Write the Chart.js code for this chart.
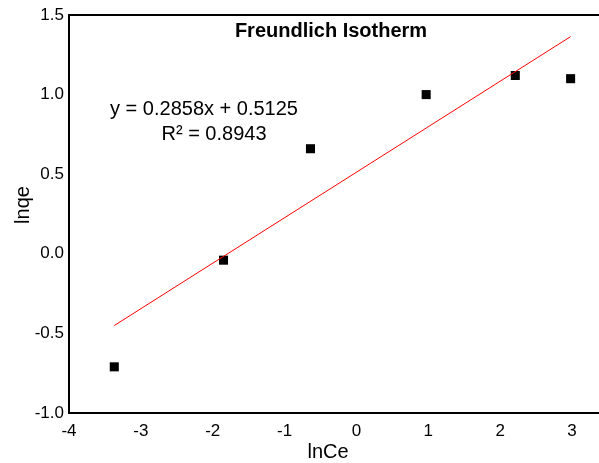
<!DOCTYPE html>
<html>
<head>
<meta charset="utf-8">
<title>Freundlich Isotherm</title>
<script src="https://cdn.jsdelivr.net/npm/chart.js@4"></script>
<style>
  html, body { margin: 0; padding: 0; background: #fff; overflow: hidden; }
</style>
</head>
<body>
<canvas id="isotherm" width="599" height="463"></canvas>
<script>
// measured points (ln Ce, ln qe)
const lnCe = [-3.37, -1.85, -0.64, 0.97, 2.21, 2.98];
const lnQe = [-0.71, -0.04, 0.66, 1.00, 1.12, 1.10];

// linear fit
const slope = 0.2858;
const intercept = 0.5125;
const rSquared = 0.8943;

const xTicks = [-4, -3, -2, -1, 0, 1, 2, 3];
const yTicks = [-1.0, -0.5, 0.0, 0.5, 1.0, 1.5];

const FONT = '"Liberation Sans", Arial, Helvetica, sans-serif';

const points = lnCe.map((x, i) => ({ x, y: lnQe[i] }));
const xLo = Math.min(...lnCe);
const xHi = Math.max(...lnCe);
const fitLine = [xLo, xHi].map(x => ({ x, y: slope * x + intercept }));

// box, title, fit equation and axis names
const decorations = {
  id: 'decorations',
  beforeDatasetsDraw(chart) {
    const { ctx, chartArea: a } = chart;
    ctx.save();
    ctx.strokeStyle = '#000';
    ctx.lineWidth = 2;
    ctx.beginPath();
    ctx.moveTo(a.right + 2, a.top);
    ctx.lineTo(a.left, a.top);
    ctx.lineTo(a.left, a.bottom);
    ctx.lineTo(a.right + 2, a.bottom);
    ctx.stroke();
    ctx.restore();
  },
  afterDraw(chart) {
    const { ctx } = chart;
    ctx.save();
    ctx.fillStyle = '#000';
    ctx.textAlign = 'center';
    ctx.textBaseline = 'middle';

    ctx.font = 'bold 20px ' + FONT;
    ctx.fillText('Freundlich Isotherm', 331, 31);

    ctx.font = '20px ' + FONT;
    const sign = intercept < 0 ? '-' : '+';
    ctx.fillText('y = ' + slope.toFixed(4) + 'x ' + sign + ' ' + Math.abs(intercept).toFixed(4), 204, 109);
    ctx.fillText('R\u00B2 = ' + rSquared.toFixed(4), 214, 134);

    ctx.fillText('lnCe', 328, 452);

    ctx.translate(23, 205);
    ctx.rotate(-Math.PI / 2);
    ctx.fillText('lnqe', 0, 0);
    ctx.restore();
  }
};

new Chart(document.getElementById('isotherm'), {
  type: 'scatter',
  data: {
    datasets: [
      {
        label: 'Linear fit',
        type: 'line',
        data: fitLine,
        borderColor: '#ff0000',
        borderWidth: 1,
        pointRadius: 0,
        fill: false,
        order: 0
      },
      {
        label: 'lnqe',
        data: points,
        pointStyle: 'rect',
        pointRadius: 6.4,
        borderWidth: 0,
        backgroundColor: '#000',
        order: 1
      }
    ]
  },
  options: {
    responsive: false,
    animation: false,
    layout: {
      autoPadding: false,
      padding: { top: 15, left: 0, right: 0, bottom: 0 }
    },
    plugins: {
      legend: { display: false },
      tooltip: { enabled: false }
    },
    scales: {
      x: {
        type: 'linear',
        min: -4,
        max: 3.375,
        grid: { display: false, drawTicks: false },
        border: { display: false },
        afterBuildTicks: s => { s.ticks = xTicks.map(v => ({ value: v })); },
        afterFit: s => {
          s.height = 50;
          s.paddingLeft = 0;
          s.paddingRight = 0;
        },
        ticks: {
          color: '#000',
          padding: 8,
          maxRotation: 0,
          font: { family: FONT, size: 17 },
          callback: v => String(v)
        }
      },
      y: {
        type: 'linear',
        min: -1,
        max: 1.5,
        grid: { display: false, drawTicks: false },
        border: { display: false },
        afterBuildTicks: s => { s.ticks = yTicks.map(v => ({ value: v })); },
        afterFit: s => {
          s.width = 69;
          s.paddingTop = 0;
          s.paddingBottom = 0;
        },
        ticks: {
          color: '#000',
          padding: 5,
          font: { family: FONT, size: 17 },
          callback: v => Number(v).toFixed(1)
        }
      }
    }
  },
  plugins: [decorations]
});
</script>
</body>
</html>
